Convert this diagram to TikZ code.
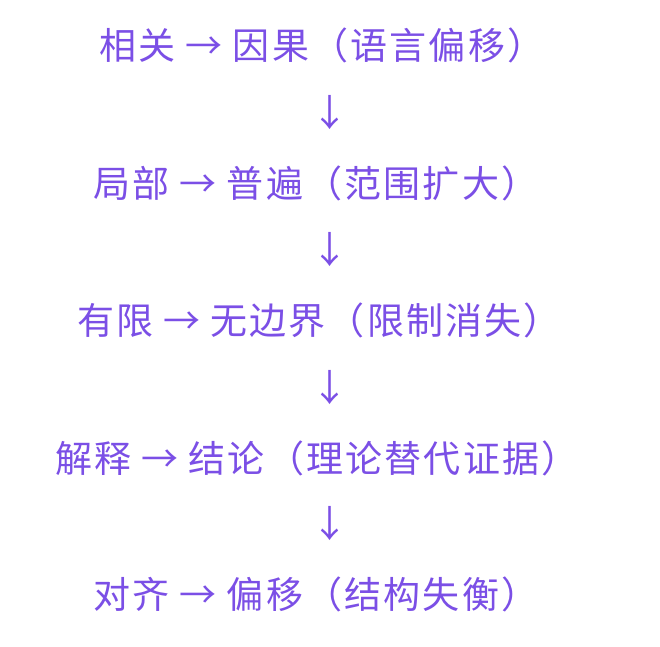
\documentclass[tikz,border=0pt]{standalone}
\usepackage{fontspec}
\setmainfont{Noto Sans CJK SC}[LetterSpace=6]
\usepackage{tikz}
\usetikzlibrary{positioning}
\definecolor{stepviolet}{HTML}{7B4FE6}
\newcommand{\toarrow}{\hspace{10pt}→\hspace{10pt}}

\begin{document}
\begin{tikzpicture}[
        x=1pt, y=-1pt,
        every node/.style = {text=stepviolet, font=\fontsize{37}{42}\selectfont, inner sep=0pt},
        down/.style = {font=\fontsize{37}{42}\selectfont}
    ]
        \useasboundingbox[fill=white] (0,0) rectangle (660,646);
        \node (l1) at (322,45) {相关\toarrow 因果（语言偏移）};
        \node[down] (d1) at (330,113) {↓};
        \node (l2) at (316,183) {局部\toarrow 普遍（范围扩大）};
        \node[down] (d2) at (330,250) {↓};
        \node (l3) at (319,320) {有限\toarrow 无边界（限制消失）};
        \node[down] (d3) at (330,388) {↓};
        \node (l4) at (317,458) {解释\toarrow 结论（理论替代证据）};
        \node[down] (d4) at (330,524) {↓};
        \node (l5) at (316,594) {对齐\toarrow 偏移（结构失衡）};
    \end{tikzpicture}
\end{document}
